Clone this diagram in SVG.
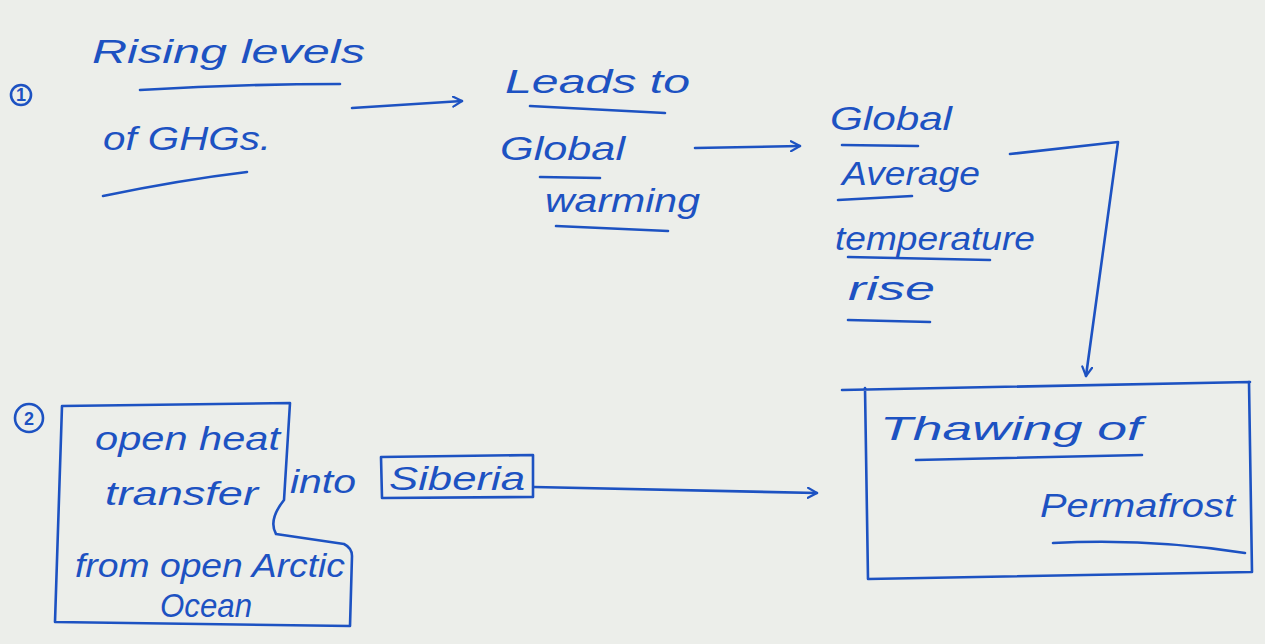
<svg xmlns="http://www.w3.org/2000/svg" width="1265" height="644" viewBox="0 0 1265 644">
<defs>
<style>
.ink{fill:none;stroke:#1d52c2;stroke-width:2.6;stroke-linecap:round;stroke-linejoin:round}
.t{fill:#1d52c2;font-family:"Liberation Sans",Arial,sans-serif;font-style:italic;font-size:33px}
.n{fill:#1d52c2;font-family:"Liberation Sans",Arial,sans-serif;font-size:18px;font-weight:bold}
</style>
<marker id="ah" viewBox="0 0 12 12" refX="10" refY="6" markerWidth="12" markerHeight="12" markerUnits="userSpaceOnUse" orient="auto">
<path d="M1,1 L10,6 L1,11" fill="none" stroke="#1d52c2" stroke-width="2.2" stroke-linecap="round" stroke-linejoin="round"/>
</marker>
</defs>
<rect x="0" y="0" width="1265" height="644" fill="#eceeea"/>

<g id="label1">
<circle class="ink" cx="21" cy="95" r="10"/>
<text class="n" x="21" y="101" text-anchor="middle" font-size="16">1</text>
</g>

<g id="node-ghg">
<text class="t" x="92" y="63" textLength="273" lengthAdjust="spacingAndGlyphs">Rising levels</text>
<path class="ink" d="M140,90 Q240,84 340,84"/>
<text class="t" x="103" y="150" textLength="168" lengthAdjust="spacingAndGlyphs">of GHGs.</text>
<path class="ink" d="M103,196 Q180,180 247,172"/>
</g>

<g id="node-warming">
<text class="t" x="505" y="93" textLength="185" lengthAdjust="spacingAndGlyphs">Leads to</text>
<path class="ink" d="M530,106 L665,113"/>
<text class="t" x="500" y="160" textLength="125" lengthAdjust="spacingAndGlyphs">Global</text>
<path class="ink" d="M540,177 L600,178"/>
<text class="t" x="545" y="212" textLength="155" lengthAdjust="spacingAndGlyphs">warming</text>
<path class="ink" d="M556,226 L668,231"/>
</g>

<g id="node-temp">
<text class="t" x="830" y="130" textLength="122" lengthAdjust="spacingAndGlyphs">Global</text>
<path class="ink" d="M842,145 L918,146"/>
<text class="t" x="842" y="185" textLength="138" lengthAdjust="spacingAndGlyphs">Average</text>
<path class="ink" d="M838,200 L912,196"/>
<text class="t" x="835" y="250" textLength="200" lengthAdjust="spacingAndGlyphs">temperature</text>
<path class="ink" d="M848,257 L990,260"/>
<text class="t" x="848" y="300" textLength="87" lengthAdjust="spacingAndGlyphs">rise</text>
<path class="ink" d="M848,320 L930,322"/>
</g>

<g id="label2">
<circle class="ink" cx="29" cy="418" r="14"/>
<text class="n" x="29" y="425" text-anchor="middle">2</text>
</g>

<g id="node-heat">
<path class="ink" d="M62,406 L290,403 L284,500 Q268,520 276,534 L344,544 Q352,548 352,556 L350,626 L55,622 L62,406"/>
<text class="t" x="95" y="450" textLength="185" lengthAdjust="spacingAndGlyphs">open heat</text>
<text class="t" x="105" y="505" textLength="153" lengthAdjust="spacingAndGlyphs">transfer</text>
<text class="t" x="75" y="577" font-size="30" textLength="270" lengthAdjust="spacingAndGlyphs">from open Arctic</text>
<text class="t" x="160" y="617" font-size="28" textLength="92" lengthAdjust="spacingAndGlyphs">Ocean</text>
</g>

<g id="label-into">
<text class="t" x="290" y="493" textLength="66" lengthAdjust="spacingAndGlyphs">into</text>
</g>

<g id="node-siberia">
<path class="ink" d="M381,457 L533,455 L533,497 L382,498 Z"/>
<text class="t" x="389" y="490" textLength="136" lengthAdjust="spacingAndGlyphs">Siberia</text>
</g>

<g id="node-permafrost">
<path class="ink" d="M842,390 L1250,382 M865,388 L868,579 L1252,572 L1249,382"/>
<text class="t" x="880" y="440" textLength="262" lengthAdjust="spacingAndGlyphs">Thawing of</text>
<path class="ink" d="M916,460 L1142,455"/>
<text class="t" x="1040" y="517" textLength="195" lengthAdjust="spacingAndGlyphs">Permafrost</text>
<path class="ink" d="M1053,543 Q1150,538 1245,553"/>
</g>

<g id="connectors">
<path class="ink" d="M352,108 L462,101" marker-end="url(#ah)"/>
<path class="ink" d="M695,148 L800,146" marker-end="url(#ah)"/>
<path class="ink" d="M1010,154 L1118,142 L1086,376" marker-end="url(#ah)"/>
<path class="ink" d="M534,487 L817,493" marker-end="url(#ah)"/>
</g>
</svg>
